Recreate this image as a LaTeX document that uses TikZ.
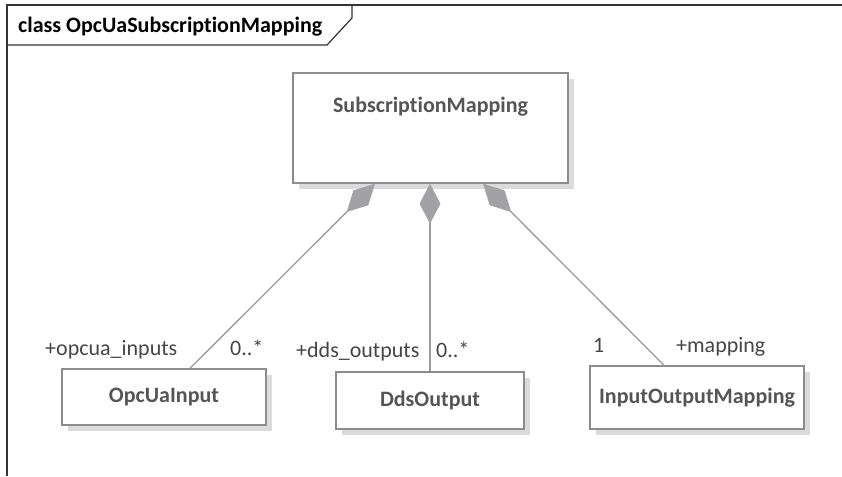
\documentclass[tikz,border=0pt]{standalone}
\usepackage{fontspec}
\setmainfont{Carlito}[Ligatures=NoCommon]
\usepackage{tikz}
\usetikzlibrary{shapes,arrows.meta,positioning}
\usetikzlibrary{shadows}

\definecolor{framegray}{HTML}{333333}
\definecolor{boxgray}{HTML}{8C8C8C}
\definecolor{linegray}{HTML}{9A9A9A}
\definecolor{diagray}{HTML}{A2A2A6}
\definecolor{namegray}{HTML}{555555}
\definecolor{rolegray}{HTML}{454545}

\tikzset{
	umlclass/.style={draw=boxgray, line width=1.4pt, fill=white, inner sep=0pt,
		drop shadow={shadow xshift=6pt, shadow yshift=-6pt, fill=black!14, opacity=1},
		font=\fontsize{22}{26}\selectfont\bfseries, text=namegray},
	classname/.style={anchor=base, font=\fontsize{22}{26}\selectfont\bfseries, text=namegray},
	role/.style={anchor=base west, inner sep=0pt, font=\fontsize{22}{26}\selectfont, text=rolegray},
	comp/.style={draw=linegray, line width=1.3pt,
		{Diamond[length=40pt, width=21pt, fill=diagray, color=diagray]}-}
}

\begin{document}
\begin{tikzpicture}[x=1pt, y=-1pt]
				\useasboundingbox (0,0) rectangle (842,476);
				% frame and title tab
				\draw [draw=framegray, line width=1.5pt] (842,5) -- (7,5) -- (7,476);
				\draw [draw=framegray, line width=1.2pt] (7,45) -- (327,45) -- (352,18) -- (352,5);
				\node (title) [anchor=base west, inner sep=0pt, font=\fontsize{22}{26}\selectfont\bfseries] at (18,33) {class OpcUaSubscriptionMapping};

				% classes
				\node (sub) [umlclass, minimum width=275pt, minimum height=110pt] at (430.5,128) {};
				\node (subname) [classname] at ([yshift=-40pt]sub.north) {SubscriptionMapping};
				\node (opcin) [umlclass, minimum width=204pt, minimum height=56pt] at (164,397) {OpcUaInput};
				\node (ddsout) [umlclass, minimum width=188pt, minimum height=57pt] at (430,400.5) {DdsOutput};
				\node (iomap) [umlclass, minimum width=214pt, minimum height=63pt] at (697,397.5) {InputOutputMapping};

				% compositions
				\draw [comp] ([xshift=-55.5pt]sub.south) -- ([xshift=26pt]opcin.north);
				\draw [comp] (sub.south -| ddsout.north) -- (ddsout.north);
				\draw [comp] ([xshift=52.5pt]sub.south) -- ([xshift=-33pt]iomap.north);

				% role names and multiplicities
				\node (opcinrole) [role] at (45,355) {+opcua\_inputs};
				\node (opcinmult) [role] at (230,355) {0..*};
				\node (ddsoutrole) [role] at (296,357) {+dds\_outputs};
				\node (ddsoutmult) [role] at (436,357) {0..*};
				\node (iomapmult) [role] at (593,352) {1};
				\node (iomaprole) [role] at (676,352) {+mapping};
\end{tikzpicture}
\end{document}
